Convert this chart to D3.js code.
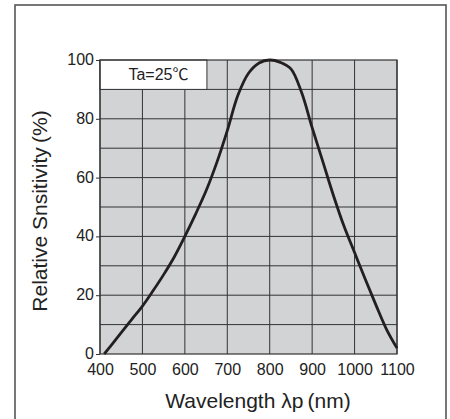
<!DOCTYPE html>
<html>
<head>
<meta charset="utf-8">
<script src="https://cdn.jsdelivr.net/npm/d3@7"></script>
<style>
  html, body { margin: 0; padding: 0; background: #fff; }
  svg { display: block; font-family: "Liberation Sans", Arial, "Noto Sans CJK JP", sans-serif; }
</style>
</head>
<body>
<div id="chart"></div>
<script>
// wavelength (nm) and relative sensitivity (%)
const wavelengths = [410, 425, 450, 475, 500, 525, 550, 575, 600, 625, 650, 675, 700, 725, 750, 775, 800, 825, 850, 875, 900, 925, 950, 975, 1000, 1025, 1050, 1075, 1100];
const sensitivity = [0, 2.7, 7.3, 11.8, 16.3, 21.5, 27, 33, 40, 47.5, 55.5, 65, 76, 88, 95.5, 99, 100, 99.2, 97, 89, 77, 65.5, 54, 43.5, 34.5, 25.5, 16.8, 8.5, 2];
const xTicks = [400, 500, 600, 700, 800, 900, 1000, 1100];
const yTicks = [0, 20, 40, 60, 80, 100];
const yGrid = [10, 20, 30, 40, 50, 60, 70, 80, 90];
const legendText = "Ta=25℃";

(function () {
  const width = 450, height = 419;
  const margin = { top: 60, right: 53, bottom: 65, left: 100 };
  const innerWidth = width - margin.left - margin.right;
  const innerHeight = height - margin.top - margin.bottom;

  const data = wavelengths.map((w, i) => ({ nm: w, val: sensitivity[i] }));

  const svg = d3.select("#chart")
    .append("svg")
    .attr("width", width)
    .attr("height", height);

  // outer frame (runs off the bottom of the page)
  svg.append("rect")
    .attr("x", 15)
    .attr("y", 5)
    .attr("width", 431)
    .attr("height", 430)
    .attr("fill", "none")
    .attr("stroke", "#555")
    .attr("stroke-width", 1.6);

  const g = svg.append("g")
    .attr("transform", `translate(${margin.left},${margin.top})`);

  const x = d3.scaleLinear()
    .domain([400, 1100])
    .range([0, innerWidth]);

  const y = d3.scaleLinear()
    .domain([0, 100])
    .range([innerHeight, 0]);

  g.append("rect")
    .attr("width", innerWidth)
    .attr("height", innerHeight)
    .attr("fill", "#d2d3d5");

  // grid
  g.append("g")
    .selectAll("line")
    .data(xTicks)
    .join("line")
    .attr("x1", d => x(d)).attr("x2", d => x(d))
    .attr("y1", 0).attr("y2", innerHeight)
    .attr("stroke", "#333")
    .attr("stroke-width", 1);

  g.append("g")
    .selectAll("line")
    .data(yGrid)
    .join("line")
    .attr("x1", 0).attr("x2", innerWidth)
    .attr("y1", d => y(d)).attr("y2", d => y(d))
    .attr("stroke", "#333")
    .attr("stroke-width", 1);

  // legend box
  const boxW = x(652) - x(400);
  g.append("rect")
    .attr("x", 0)
    .attr("y", 0)
    .attr("width", boxW)
    .attr("height", y(90))
    .attr("fill", "#fff")
    .attr("stroke", "#333")
    .attr("stroke-width", 1);

  g.append("text")
    .attr("x", boxW / 2 + 5)
    .attr("y", 20)
    .attr("text-anchor", "middle")
    .attr("font-size", 16)
    .attr("fill", "#222")
    .text(legendText);

  // plot border
  g.append("rect")
    .attr("width", innerWidth)
    .attr("height", innerHeight)
    .attr("fill", "none")
    .attr("stroke", "#333")
    .attr("stroke-width", 1.2);

  const yAxis = g.append("g")
    .call(d3.axisLeft(y).tickValues(yTicks).tickSize(4).tickPadding(2));
  yAxis.select(".domain").remove();
  yAxis.selectAll("line").attr("stroke", "#333");
  yAxis.selectAll("text")
    .attr("font-size", 16)
    .attr("font-family", null)
    .attr("fill", "#222")
    .attr("dy", "0.28em");

  const xAxis = g.append("g")
    .attr("transform", `translate(0,${innerHeight})`)
    .call(d3.axisBottom(x).tickValues(xTicks).tickFormat(d3.format("d")).tickSize(0).tickPadding(10));
  xAxis.select(".domain").remove();
  xAxis.selectAll("text")
    .attr("font-size", 16)
    .attr("font-family", null)
    .attr("fill", "#222");

  // axis titles
  g.append("text")
    .attr("x", 158)
    .attr("y", innerHeight + 54)
    .attr("text-anchor", "middle")
    .attr("font-size", 21)
    .attr("fill", "#222")
    .text("Wavelength λp\u2009(nm)");

  g.append("text")
    .attr("transform", "rotate(-90)")
    .attr("x", -(211 - margin.top))
    .attr("y", -53)
    .attr("text-anchor", "middle")
    .attr("font-size", 21)
    .attr("fill", "#222")
    .text("Relative Snsitivity\u2009(%)");

  const line = d3.line()
    .x(d => x(d.nm))
    .y(d => y(d.val))
    .curve(d3.curveCatmullRom.alpha(0.5));

  g.append("path")
    .datum(data)
    .attr("fill", "none")
    .attr("stroke", "#231f20")
    .attr("stroke-width", 2.8)
    .attr("stroke-linejoin", "round")
    .attr("d", line);
})();
</script>
</body>
</html>
